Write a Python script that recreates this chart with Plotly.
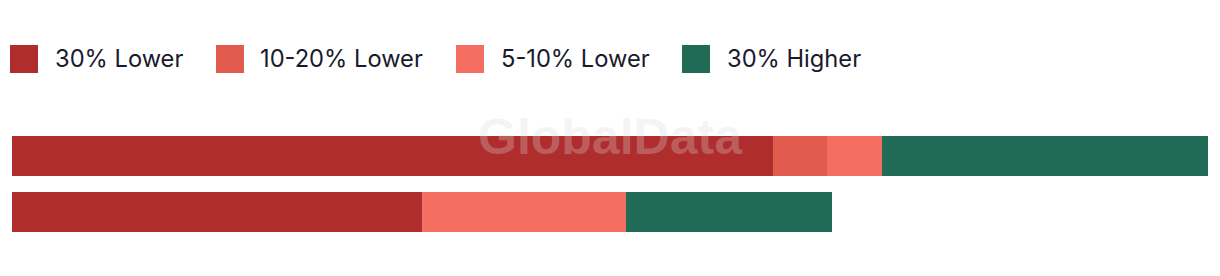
import plotly.graph_objects as go

# ---- data ----
categories = ["Row 1", "Row 2"]
series_names = ["30% Lower", "10-20% Lower", "5-10% Lower", "30% Higher"]
series_values = {
    "30% Lower":    [14.0, 7.55],
    "10-20% Lower": [1.0, 0.0],
    "5-10% Lower":  [1.0, 3.75],
    "30% Higher":   [6.0, 3.78],
}
colors = ["#B02D2E", "#E05A4E", "#F56E62", "#216B56"]

# ---- layout constants (pixels) ----
W, H = 1220, 276
ML, MR, MT, MB = 12, 12, 128, 36
PW = W - ML - MR
PH = H - MT - MB


def px_x(px):
    return (px - ML) / PW


def px_y(py):
    return (H - MB - py) / PH


fig = go.Figure()
for name, col in zip(series_names, colors):
    fig.add_trace(go.Bar(
        y=categories, x=series_values[name], name=name, orientation="h",
        marker=dict(color=col, line=dict(width=0)), showlegend=False,
        hoverinfo="x+name",
    ))

# custom legend (large square swatches)
legend_sq_x = [10, 216, 456, 682]
legend_tx_x = [55, 260, 501, 727]
sq = 28
leg_cy = 59
shapes = []
annotations = []
for name, col, sx, tx in zip(series_names, colors, legend_sq_x, legend_tx_x):
    shapes.append(dict(type="rect", xref="paper", yref="paper",
                       x0=px_x(sx), x1=px_x(sx + sq),
                       y0=px_y(leg_cy + sq / 2), y1=px_y(leg_cy - sq / 2),
                       fillcolor=col, line=dict(width=0), layer="above"))
    annotations.append(dict(text=name, xref="paper", yref="paper",
                            x=px_x(tx), y=px_y(leg_cy - 0.5), xanchor="left", yanchor="middle",
                            showarrow=False, xshift=-2,
                            font=dict(family="Inter", size=23.7, color="#1A1A2E")))

# watermark
annotations.append(dict(text="<b>GlobalData</b>", xref="paper", yref="paper",
                        x=px_x(610.5), y=px_y(137), xanchor="center", yanchor="middle",
                        showarrow=False,
                        font=dict(family="Liberation Sans", size=50, color="rgba(215,215,215,0.28)")))

fig.update_layout(
    width=W, height=H,
    margin=dict(l=ML, r=MR, t=MT, b=MB, pad=0),
    barmode="stack", bargap=16 / 56,
    plot_bgcolor="white", paper_bgcolor="white",
    xaxis=dict(range=[0, 22], visible=False, fixedrange=True),
    yaxis=dict(range=[1.5, -0.5], visible=False, fixedrange=True),
    shapes=shapes, annotations=annotations,
)

fig.write_html("out.html", config={"displayModeBar": False})
